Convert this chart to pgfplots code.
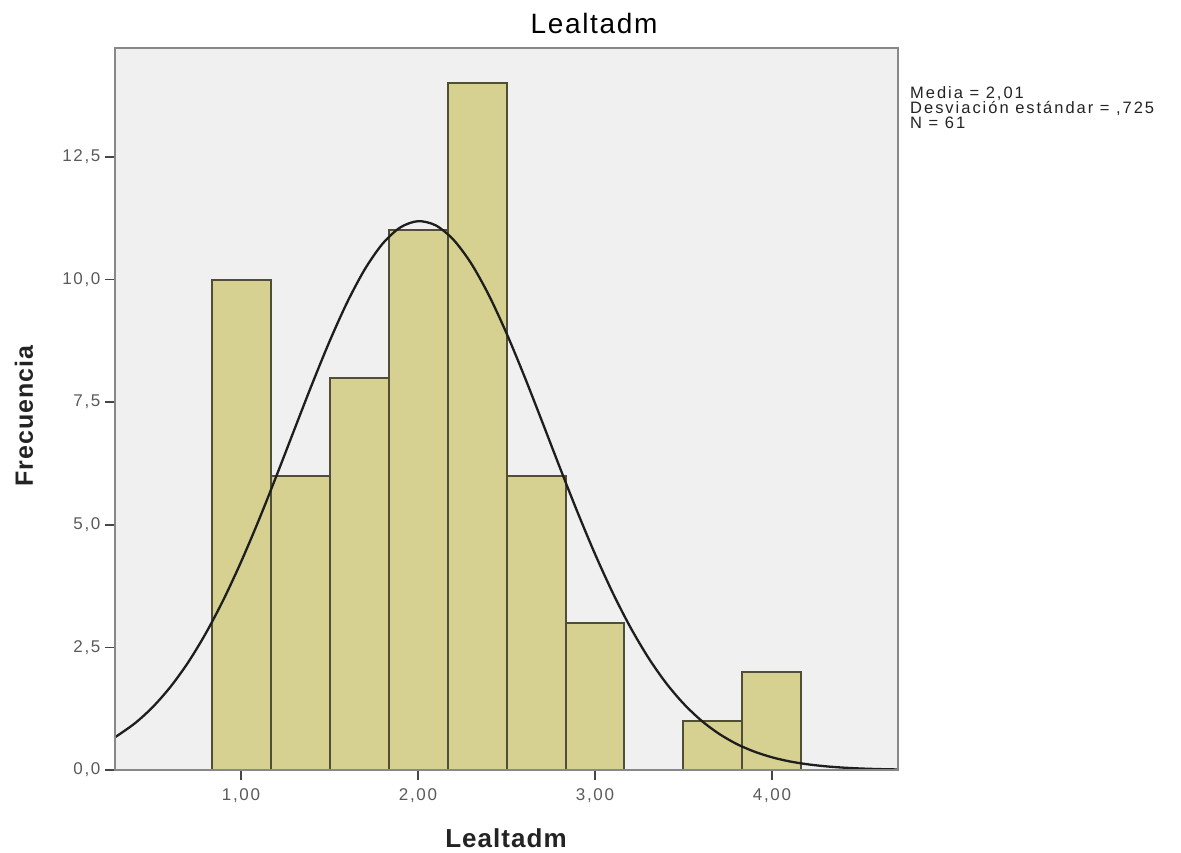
\documentclass[border=0pt]{standalone}
\usepackage{pgfplots}
\pgfplotsset{compat=1.18}
\usepackage{fontspec}
\setmainfont{Liberation Sans}
\newfontfamily\tickfont[LetterSpace=10]{Liberation Sans}
\newfontfamily\statfont[LetterSpace=12]{Liberation Sans}
\newfontfamily\titlefont[LetterSpace=6]{Liberation Sans}
\newfontfamily\labelfont[LetterSpace=4]{Liberation Sans}
\definecolor{bgc}{RGB}{240,240,240}
\definecolor{axc}{RGB}{136,136,136}
\definecolor{barc}{RGB}{214,208,145}
\definecolor{edgec}{RGB}{80,78,55}
\definecolor{curvec}{RGB}{30,30,30}
\definecolor{tlc}{RGB}{90,90,90}
\definecolor{tickc}{RGB}{70,70,70}
\definecolor{txtc}{RGB}{35,35,35}
\begin{document}
\begin{tikzpicture}
\path[use as bounding box] (-115pt,-82pt) rectangle (1066pt,770pt);
\begin{axis}[
  at={(0pt,0pt)}, anchor=south west,
  scale only axis, width=783pt, height=722pt,
  xmin=0.288, xmax=4.712, ymin=0, ymax=14.72,
  axis background/.style={fill=bgc},
  axis line style={draw=axc, line width=2.5pt},
  axis on top,
  xtick={1,2,3,4}, xticklabels={{1,00},{2,00},{3,00},{4,00}},
  ytick={0,2.5,5,7.5,10,12.5},
  yticklabels={{0,0},{2,5},{5,0},{7,5},{10,0},{12,5}},
  tick align=outside, tick pos=left, major tick length=10pt,
  tick style={draw=tickc, line width=1.5pt},
  ticklabel style={font=\tickfont\fontsize{17}{20}\selectfont, text=tlc},
  xticklabel style={yshift=-5pt},
  yticklabel style={xshift=-1pt},
]
\addplot[ybar, bar width=0.33333, bar shift=0pt, fill=barc, draw=edgec, line width=2pt]
  coordinates {(1,10) (1.33333,6) (1.66667,8) (2,11) (2.33333,14) (2.66667,6) (3,3) (3.66667,1) (4,2)};
\addplot[smooth, no marks, line width=2.3pt, color=curvec] coordinates {
(0.288,0.667) (0.4,0.951) (0.5,1.279) (0.6,1.689) (0.7,2.187) (0.8,2.780)
(0.9,3.466) (1.0,4.241) (1.1,5.090) (1.2,5.995) (1.3,6.928) (1.4,7.854)
(1.5,8.737) (1.6,9.536) (1.7,10.212) (1.8,10.730) (1.9,11.062) (2.0,11.189)
(2.1,11.104) (2.2,10.812) (2.3,10.330) (2.4,9.683) (2.5,8.905) (2.6,8.036)
(2.7,7.115) (2.8,6.180) (2.9,5.267) (3.0,4.404) (3.1,3.614) (3.2,2.909)
(3.3,2.298) (3.4,1.780) (3.5,1.354) (3.6,1.010) (3.7,0.740) (3.8,0.531)
(3.9,0.375) (4.0,0.259) (4.1,0.175) (4.2,0.117) (4.3,0.0763) (4.4,0.0489)
(4.5,0.0307) (4.6,0.0189) (4.712,0.0108)};
\end{axis}
\node[anchor=base, text=black, font=\titlefont\fontsize{28}{32}\selectfont] at (479pt,736pt) {Lealtadm};
\node[anchor=base, text=txtc, font=\labelfont\bfseries\fontsize{26}{30}\selectfont] at (391pt,-77pt) {Lealtadm};
\node[anchor=base, rotate=90, text=txtc, font=\labelfont\bfseries\fontsize{25}{30}\selectfont] at (-82pt,354pt) {Frecuencia};
\node[anchor=base west, inner sep=0pt, text=txtc, font=\statfont\fontsize{16.5}{18}\selectfont] at (795pt,671pt) {Media = 2,01};
\node[anchor=base west, inner sep=0pt, text=txtc, font=\statfont\fontsize{16.5}{18}\selectfont] at (795pt,656pt) {Desviación estándar = ,725};
\node[anchor=base west, inner sep=0pt, text=txtc, font=\statfont\fontsize{16.5}{18}\selectfont] at (795pt,641pt) {N = 61};
\end{tikzpicture}
\end{document}
